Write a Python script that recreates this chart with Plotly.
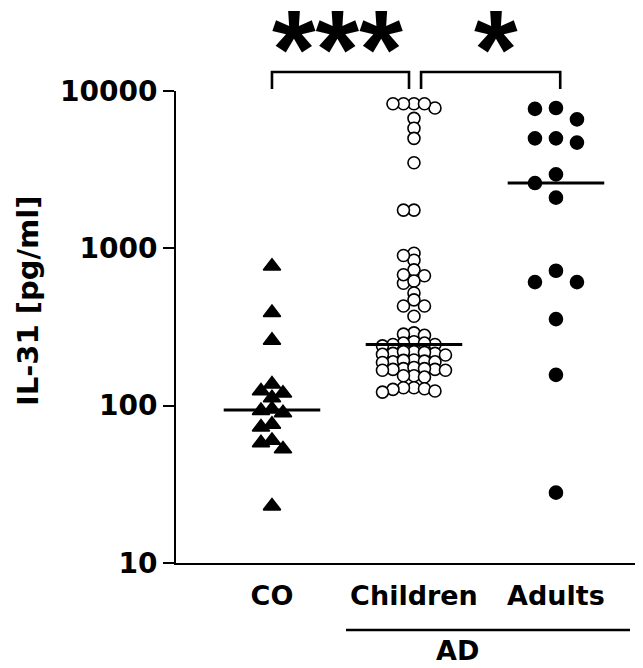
import numpy as np
import plotly.graph_objects as go

# ---------------- data ----------------
categories = ["CO", "Children", "Adults"]
group_label = "AD"
y_title = "IL-31 [pg/ml]"
y_tick_values = [10, 100, 1000, 10000]
y_tick_labels = ["10", "100", "1000", "10000"]
sig_labels = ["***", "*"]

co_values = [770, 390, 260, 120, 137, 124, 112, 95, 90, 93, 73, 76, 58, 53, 60, 23]
children_values = [
    8300, 8300, 7800, 8300, 8300, 6700, 5800, 5000, 3500, 1750, 1750,
    930, 840, 900, 730, 670, 600, 620, 680, 520, 470, 430, 430, 370,
    290, 285, 280,
    255, 250, 245, 245, 240, 250,
    220, 215, 215, 210, 218, 212, 220,
    195, 190, 192, 188, 194, 190,
    172, 170, 168, 175, 170, 172, 168,
    155, 152, 155,
    130, 128, 130, 127,
    122, 124,
]
adults_values = [7800, 7700, 6600, 5000, 4700, 5000, 2950, 2600, 2100,
                 720, 610, 610, 355, 157, 28]

# ---------------- geometry ----------------
# the page body has an 8px margin, so the figure is 8px smaller than the window
PAGE_OFF = 8
W, H = 643 - PAGE_OFF, 668 - PAGE_OFF
AX_LEFT, AX_TOP, AX_BOTTOM = 176, 91, 563          # window pixels
M_L = AX_LEFT - PAGE_OFF
M_T = AX_TOP - PAGE_OFF
M_B = H - (AX_BOTTOM - PAGE_OFF)
M_R = 0
PLOT_W = W - M_L - M_R
PLOT_H = H - M_T - M_B
X_RANGE = [-0.676, 2.613]
PX_PER_X = PLOT_W / (X_RANGE[1] - X_RANGE[0])
PX_PER_DECADE = PLOT_H / 3.0
FONT = "DejaVu Sans"


def py(pix):
    """window pixel row -> paper y"""
    return (AX_BOTTOM - pix) / PLOT_H


def px(pix):
    """window pixel column -> paper x"""
    return (pix - AX_LEFT) / PLOT_W


def swarm(values, step, h):
    """Greedy beeswarm: offsets (in x units) so points do not overlap."""
    vals = np.asarray(values, dtype=float)
    order = np.argsort(-vals, kind="stable")
    placed = []
    offs = np.zeros(len(vals))
    cands = [0]
    for j in range(1, 30):
        cands += [-j, j]
    for i in order:
        yp = np.log10(vals[i]) * PX_PER_DECADE
        for c in cands:
            xp = c * step
            ok = True
            for (qx, qy) in placed:
                if abs(xp - qx) < step * 0.9 and abs(yp - qy) < h:
                    ok = False
                    break
            if ok:
                break
        placed.append((xp, yp))
        offs[i] = xp / PX_PER_X
    return offs


groups = [
    dict(vals=co_values, sym="triangle-up", size=15, fill="black", step=11, h=10),
    dict(vals=children_values, sym="circle", size=12, fill="white", step=10.5, h=6.5),
    dict(vals=adults_values, sym="circle", size=13, fill="black", step=21, h=12),
]

fig = go.Figure()
for gi, g in enumerate(groups):
    offs = swarm(g["vals"], g["step"], g["h"])
    fig.add_trace(go.Scatter(
        x=gi + offs, y=g["vals"], mode="markers", cliponaxis=False,
        marker=dict(symbol=g["sym"], size=g["size"], color=g["fill"],
                    line=dict(color="black", width=1.6)),
        showlegend=False, hoverinfo="y",
    ))
    med = float(np.median(g["vals"]))
    fig.add_trace(go.Scatter(
        x=[gi - 0.34, gi + 0.34], y=[med, med], mode="lines",
        line=dict(color="black", width=3), showlegend=False, hoverinfo="skip",
    ))

# significance brackets
brackets = [(0.0, 0.965), (1.05, 2.03)]
star_x = [0.462, 1.575]
shapes = []
for (a, b) in brackets:
    shapes.append(dict(type="path", xref="x", yref="paper",
                       path=f"M {a},{py(89)} L {a},{py(72)} L {b},{py(72)} L {b},{py(89)}",
                       line=dict(color="black", width=2.6)))
# AD group line
shapes.append(dict(type="line", xref="paper", yref="paper", x0=px(346), x1=px(630),
                   y0=py(630), y1=py(630), line=dict(color="black", width=2.5)))

annotations = []
for sx, lab in zip(star_x, sig_labels):
    annotations.append(dict(text=lab, x=sx, y=py(50), xref="x", yref="paper",
                            showarrow=False, xanchor="center", yanchor="middle",
                            font=dict(family="Liberation Sans", size=112, color="black", weight="bold")))
annotations.append(dict(text=group_label, x=px(457), y=py(650), xref="paper", yref="paper",
                        showarrow=False, xanchor="center", yanchor="middle",
                        font=dict(family=FONT, size=27, color="black", weight="bold")))
annotations.append(dict(text=y_title, x=px(28), y=py(301), xref="paper", yref="paper",
                        showarrow=False, textangle=-90, xanchor="center", yanchor="middle",
                        font=dict(family=FONT, size=29, color="black", weight="bold")))

fig.update_layout(
    width=W, height=H, margin=dict(l=M_L, r=M_R, t=M_T, b=M_B, pad=0, autoexpand=False),
    paper_bgcolor="white", plot_bgcolor="white",
    shapes=shapes, annotations=annotations,
    font=dict(family=FONT, color="black"),
    xaxis=dict(range=X_RANGE, tickvals=[0, 1, 2], ticktext=categories,
               showline=True, linecolor="black", linewidth=2, ticks="",
               showgrid=False, zeroline=False, ticklabelstandoff=8,
               tickfont=dict(family=FONT, size=27, color="black", weight="bold")),
    yaxis=dict(type="log", range=[1, 4], tickvals=y_tick_values, ticktext=y_tick_labels,
               showline=True, linecolor="black", linewidth=2, ticks="outside",
               ticklen=11, tickwidth=2, tickcolor="black", showgrid=False, zeroline=False,
               tickfont=dict(family=FONT, size=28, color="black", weight="bold")),
)

fig.write_html("out.html")
